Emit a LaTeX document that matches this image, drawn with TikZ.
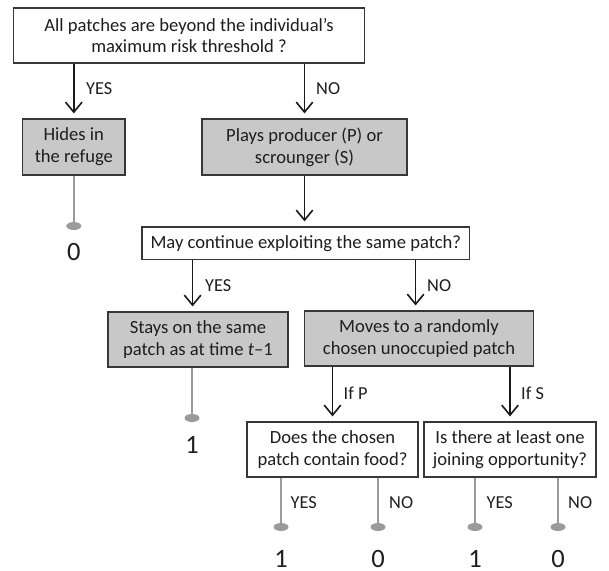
\documentclass[tikz,border=0pt]{standalone}
\usepackage{fontspec}
\setmainfont{Carlito}
\usetikzlibrary{arrows.meta,shapes.geometric}
\definecolor{boxgray}{RGB}{200,200,200}
\definecolor{edgegray}{RGB}{55,55,55}
\definecolor{linegray}{RGB}{155,155,155}
\definecolor{txt}{RGB}{30,30,30}
\begin{document}
\begin{tikzpicture}[x=1pt,y=-1pt,
  box/.style={draw=edgegray, line width=1.2pt, fill=white, align=center, inner sep=0pt,
    text=txt, font=\fontsize{18.6}{21.8}\selectfont},
  graybox/.style={box, fill=boxgray},
  arr/.style={draw=black!90, line width=1.6pt,
    -{Straight Barb[length=10pt,width=16.5pt,line width=1.6pt]}, shorten >=5pt},
  gline/.style={draw=linegray, line width=2.3pt},
  dot/.style={ellipse, fill=linegray, minimum width=15pt, minimum height=8pt, inner sep=0pt},
  lab/.style={anchor=west, text=txt, inner sep=0pt, font=\fontsize{18.3}{20}\selectfont},
  num/.style={anchor=base, text=txt, inner sep=0pt, font=\fontsize{26.5}{30}\selectfont}]
\useasboundingbox (0,0) rectangle (609,570);

% boxes
\node[box, minimum width=351pt, minimum height=55pt] (top) at (189.1,35.5)
  {All patches are beyond the individual’s\\maximum risk threshold ?};
\node[graybox, minimum width=102.4pt, minimum height=56pt] (hides) at (73.8,147)
  {Hides in\\the refuge};
\node[graybox, minimum width=205pt, minimum height=56pt] (plays) at (304.5,147)
  {Plays producer (P) or\\scrounger (S)};
\node[box, minimum width=327.6pt, minimum height=32.5pt] (may) at (305.8,243.2)
  {May continue exploiting the same patch?};
\node[graybox, minimum width=180pt, minimum height=55pt] (stays) at (198,339.5)
  {Stays on the same\\patch as at time \textit{t}–1};
\node[graybox, minimum width=229pt, minimum height=55pt] (moves) at (419,338.5)
  {Moves to a randomly\\chosen unoccupied patch};
\node[box, minimum width=171pt, minimum height=55pt] (food) at (332.5,449.5)
  {Does the chosen\\patch contain food?};
\node[box, minimum width=172pt, minimum height=55pt] (join) at (510,449.5)
  {Is there at least one\\joining opportunity?};

% x positions of off-centre arrows
\coordinate (xY) at (192.6,0);
\coordinate (xN) at (415.6,0);

% arrows
\draw[arr] (top.south -| hides) -- (hides.north);
\draw[arr] (top.south -| plays) -- (plays.north);
\draw[arr] (plays.south) -- (may.north -| plays);
\draw[arr] (may.south -| xY) -- (stays.north -| xY);
\draw[arr] (may.south -| xN) -- (moves.north -| xN);
\draw[arr] (moves.south -| food) -- (food.north);
\draw[arr] (moves.south -| join) -- (join.north);

% end points
\node[dot] (d0) at (73.8,226) {};
\node[dot] (d1) at (192,418) {};
\node[dot] (d2) at (281,527) {};
\node[dot] (d3) at (378,527) {};
\node[dot] (d4) at (475,527) {};
\node[dot] (d5) at (558,527) {};
\draw[gline] (hides.south) -- (d0);
\draw[gline] (stays.south -| d1) -- (d1);
\draw[gline] (food.south -| d2) -- (d2);
\draw[gline] (food.south -| d3) -- (d3);
\draw[gline] (join.south -| d4) -- (d4);
\draw[gline] (join.south -| d5) -- (d5);

\node[num] (n0) at (73.8,260.5) {0};
\node[num] (n1) at (192,453.5) {1};
\node[num] (n2) at (281,567) {1};
\node[num] (n3) at (378,567) {0};
\node[num] (n4) at (475,567) {1};
\node[num] (n5) at (558,567) {0};

% labels
\node[lab] (l1) at (86,89) {YES};
\node[lab] (l2) at (316,89) {NO};
\node[lab] (l3) at (205,286) {YES};
\node[lab] (l4) at (427,286) {NO};
\node[lab] (l5) at (343.5,393) {If P};
\node[lab] (l6) at (521,393) {If S};
\node[lab] (l7) at (290.5,503) {YES};
\node[lab] (l8) at (389,503) {NO};
\node[lab] (l9) at (486.5,503) {YES};
\node[lab] (l10) at (568,503) {NO};
\end{tikzpicture}
\end{document}
